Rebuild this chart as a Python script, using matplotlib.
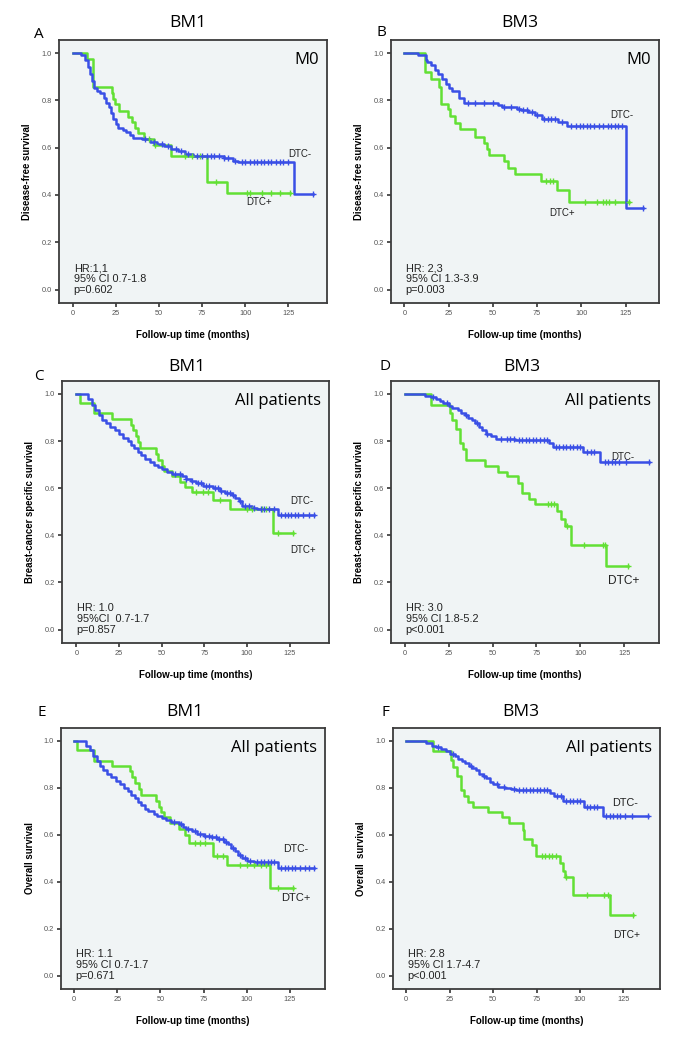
import numpy as np
import matplotlib
matplotlib.use('Agg')
import matplotlib.pyplot as plt

plt.rcParams['font.family'] = ['Liberation Sans', 'DejaVu Sans']

# ---- data (Kaplan-Meier steps) ----
# panel A : BM1, M0, disease-free survival
a_pos_t = [0, 8.5, 12.0, 22.6, 23.6, 24.5, 26.9, 32.3, 34.2, 36.1, 38.1, 41.5, 47.1, 56.8, 77.7, 89.3, 126]
a_pos_s = [1.0, 0.975, 0.855, 0.83, 0.805, 0.785, 0.755, 0.73, 0.71, 0.685, 0.66, 0.635, 0.61, 0.565, 0.455, 0.41, 0.41]
a_pos_c = [44, 48, 65, 69, 74, 83, 101, 103, 110, 115, 120, 126]
a_neg_t = [0, 5, 7, 9, 10, 11, 12.5, 14, 16, 18, 19.5, 21, 22, 23.5, 25, 26.5, 29, 31, 33, 35, 40, 45,
           49, 53, 57, 61, 65, 70, 88, 93, 96, 128, 139]
a_neg_s = [1.0, 0.99, 0.97, 0.94, 0.91, 0.88, 0.85, 0.84, 0.83, 0.81, 0.79, 0.77, 0.745, 0.72, 0.70, 0.685,
           0.675, 0.665, 0.655, 0.64, 0.635, 0.625, 0.615, 0.605, 0.595, 0.585, 0.575, 0.565, 0.555, 0.545,
           0.54, 0.405, 0.405]
a_neg_c = [42, 47, 52, 55, 60, 63, 67, 72, 75, 78, 80, 82, 85, 88, 90, 94, 98, 100, 103, 105, 107, 109,
           111, 113, 115, 118, 120, 122, 125, 139]

# panel B : BM3, M0, disease-free survival
b_pos_t = [0, 11.7, 15.1, 19.3, 20.6, 24.5, 26.0, 28.5, 31.5, 40.0, 44.7, 46.5, 48.0, 56.5, 58.5, 62.7,
           77.2, 86.3, 92.9, 127]
b_pos_s = [1.0, 0.92, 0.89, 0.855, 0.785, 0.765, 0.735, 0.705, 0.68, 0.645, 0.62, 0.595, 0.57, 0.545,
           0.515, 0.49, 0.46, 0.42, 0.37, 0.37]
b_pos_c = [80, 82.5, 84, 102, 109, 112, 114, 115.5, 119, 127]
b_neg_t = [0, 7.5, 12.3, 13, 15, 17, 19, 21, 23.5, 25, 27, 31, 33.5, 53, 55, 63.6, 66, 70, 74, 77.5, 87,
           92, 125.4, 135]
b_neg_s = [1.0, 0.99, 0.97, 0.96, 0.95, 0.93, 0.91, 0.89, 0.87, 0.85, 0.84, 0.81, 0.79, 0.78, 0.77, 0.765,
           0.76, 0.75, 0.74, 0.72, 0.71, 0.69, 0.345, 0.345]
b_neg_c = [36, 40, 45, 50, 56, 60, 65, 67, 69, 72, 75, 79, 81, 83, 85, 89, 94, 97, 99, 101, 103, 105,
           107, 110, 112, 115, 117, 119, 121, 123, 135]

# panel C : BM1, all patients, breast-cancer specific survival
c_pos_t = [0, 2.3, 10.4, 21, 32.2, 33.4, 35, 36, 37, 46.5, 48, 50, 51.5, 56, 60.5, 63.5, 68, 80, 90, 115, 127]
c_pos_s = [1.0, 0.96, 0.92, 0.895, 0.87, 0.845, 0.82, 0.795, 0.77, 0.745, 0.72, 0.695, 0.675, 0.65,
           0.625, 0.605, 0.585, 0.55, 0.51, 0.41, 0.41]
c_pos_c = [70, 74, 77, 84, 100, 103, 109, 111, 118, 127]
c_neg_t = [0, 6.8, 9, 11, 13, 15, 17.5, 20, 22.5, 25, 27.5, 30, 32, 34, 36, 38, 40, 43, 45.5, 48, 50, 53,
           56, 62, 64, 67, 70, 74, 80, 84, 87, 91, 93, 95, 97, 103, 106, 118, 139]
c_neg_s = [1.0, 0.98, 0.955, 0.93, 0.91, 0.89, 0.875, 0.86, 0.845, 0.83, 0.815, 0.80, 0.785, 0.77, 0.755,
           0.74, 0.725, 0.71, 0.70, 0.69, 0.68, 0.668, 0.66, 0.65, 0.64, 0.63, 0.62, 0.61, 0.60, 0.59, 0.58,
           0.57, 0.56, 0.545, 0.525, 0.515, 0.51, 0.485, 0.485]
c_neg_c = [58, 61, 64, 68, 71, 73, 76, 78, 81, 83, 85, 88, 90, 92, 96, 99, 101, 104, 108, 110, 113, 116,
           120, 122, 124, 126, 128, 130, 133, 136, 139]

# panel D : BM3, all patients, breast-cancer specific survival
d_pos_t = [0, 14.8, 25.6, 27, 29.4, 31.2, 33, 35, 45.5, 53, 58.3, 64.4, 67, 71, 74, 86.7, 89, 91, 94.7, 114.6, 127]
d_pos_s = [1.0, 0.955, 0.92, 0.89, 0.85, 0.79, 0.765, 0.72, 0.695, 0.67, 0.65, 0.62, 0.58, 0.555, 0.535,
           0.505, 0.47, 0.44, 0.36, 0.27, 0.27]
d_pos_c = [81.5, 83.5, 85, 92.5, 102, 113, 114, 127]
d_neg_t = [0, 11.4, 15, 18, 20, 22, 25, 27, 30, 32, 34, 36, 38, 40, 42, 44, 46, 49, 52, 63, 82, 84.5,
           101.5, 111, 139]
d_neg_s = [1.0, 0.99, 0.985, 0.98, 0.97, 0.96, 0.95, 0.94, 0.93, 0.92, 0.91, 0.90, 0.89, 0.875, 0.86,
           0.845, 0.83, 0.82, 0.81, 0.805, 0.79, 0.775, 0.755, 0.71, 0.71]
d_neg_c = [16, 24, 35, 41, 47, 55, 58, 60, 62, 65, 67, 69, 71, 73, 75, 77, 79, 81, 86, 88, 90, 92, 94,
           96, 98, 100, 104, 106, 108, 114, 116, 118, 120, 122, 126, 139]

# panel E : BM1, all patients, overall survival
e_pos_t = [0, 1.9, 11.8, 21.8, 32.4, 33.6, 35, 37.5, 39, 47.3, 49, 50.6, 52, 55.6, 61, 64, 66.5, 80.6,
           88.3, 113.4, 126.5]
e_pos_s = [1.0, 0.96, 0.915, 0.895, 0.87, 0.845, 0.82, 0.795, 0.77, 0.745, 0.72, 0.695, 0.675, 0.65,
           0.625, 0.60, 0.565, 0.51, 0.47, 0.375, 0.375]
e_pos_c = [70, 73, 76, 83, 86, 96, 100, 104, 108, 111, 118, 126.5]
e_neg_t = [0, 6.9, 9, 11, 13, 15, 17, 19, 21.5, 24, 26.5, 29, 31, 33, 35, 37, 39, 41, 43, 46, 48, 51, 53,
           56, 61, 63, 65, 68, 71, 75, 79, 83, 87, 89, 91, 93, 95, 97, 100, 104, 118, 139]
e_neg_s = [1.0, 0.98, 0.96, 0.935, 0.915, 0.895, 0.875, 0.86, 0.845, 0.83, 0.815, 0.80, 0.785, 0.77,
           0.755, 0.74, 0.725, 0.71, 0.70, 0.69, 0.68, 0.67, 0.665, 0.655, 0.645, 0.635, 0.625, 0.615,
           0.605, 0.595, 0.59, 0.58, 0.57, 0.56, 0.545, 0.53, 0.515, 0.50, 0.49, 0.485, 0.46, 0.46]
e_neg_c = [58, 62, 66, 70, 73, 76, 78, 80, 82, 84, 86, 88, 92, 96, 99, 102, 106, 108, 110, 112, 114,
           116, 120, 122, 124, 126, 128, 131, 134, 136, 139]

# panel F : BM3, all patients, overall survival
f_pos_t = [0, 15.3, 25.5, 27, 29, 31.5, 33.5, 35.5, 38.5, 47.3, 55, 59.3, 67, 67.8, 72.5, 74.5, 88.3, 90,
           91.5, 96, 117.3, 130.4]
f_pos_s = [1.0, 0.955, 0.92, 0.89, 0.85, 0.79, 0.765, 0.74, 0.72, 0.695, 0.675, 0.65, 0.62, 0.58, 0.555,
           0.51, 0.48, 0.445, 0.42, 0.345, 0.26, 0.26]
f_pos_c = [78, 80, 82, 84, 86, 92, 104, 114, 116, 130.4]
f_neg_t = [0, 11.6, 14.9, 17, 20, 23, 25, 28, 30, 32, 34, 36, 38, 40, 42, 44, 46, 48, 50, 53, 57, 60,
           63, 83, 85, 90, 102, 113.4, 139]
f_neg_s = [1.0, 0.99, 0.98, 0.975, 0.965, 0.955, 0.945, 0.935, 0.925, 0.915, 0.905, 0.895, 0.885, 0.875,
           0.86, 0.85, 0.84, 0.825, 0.815, 0.805, 0.80, 0.795, 0.79, 0.78, 0.765, 0.745, 0.72, 0.68, 0.68]
f_neg_c = [18, 27, 37, 45, 52, 56, 62, 65, 67, 69, 71, 73, 75, 77, 79, 81, 87, 89, 92, 94, 96, 98, 100,
           104, 106, 108, 110, 115, 117, 119, 121, 123, 126, 130, 139]

panel_letters = ['A', 'B', 'C', 'D', 'E', 'F']
panel_titles = ['BM1', 'BM3', 'BM1', 'BM3', 'BM1', 'BM3']
panel_groups = ['M0', 'M0', 'All patients', 'All patients', 'All patients', 'All patients']
y_labels = ['Disease-free survival', 'Disease-free survival',
            'Breast-cancer specific survival', 'Breast-cancer specific survival',
            'Overall survival', 'Overall  survival']
stats = ['HR:1,1\n95% CI 0.7-1.8\np=0.602',
         'HR: 2,3\n95% CI 1.3-3.9\np=0.003',
         'HR: 1.0\n95%CI  0.7-1.7\np=0.857',
         'HR: 3.0\n95% CI 1.8-5.2\np<0.001',
         'HR: 1.1\n95% CI 0.7-1.7\np=0.671',
         'HR: 2.8\n95% CI 1.7-4.7\np<0.001']
x_ticks = [0, 25, 50, 75, 100, 125]
y_ticks = [0.0, 0.2, 0.4, 0.6, 0.8, 1.0]

curves = [
    (a_neg_t, a_neg_s, a_neg_c, a_pos_t, a_pos_s, a_pos_c),
    (b_neg_t, b_neg_s, b_neg_c, b_pos_t, b_pos_s, b_pos_c),
    (c_neg_t, c_neg_s, c_neg_c, c_pos_t, c_pos_s, c_pos_c),
    (d_neg_t, d_neg_s, d_neg_c, d_pos_t, d_pos_s, d_pos_c),
    (e_neg_t, e_neg_s, e_neg_c, e_pos_t, e_pos_s, e_pos_c),
    (f_neg_t, f_neg_s, f_neg_c, f_pos_t, f_pos_s, f_pos_c),
]

# ---- layout (pixels of a 685x1045 image) ----
W, H = 685, 1045
boxes = [(59, 40, 327, 303), (391, 40, 659, 303),
         (62, 381, 329, 643), (391, 381, 659, 643),
         (61, 728, 325, 989), (393, 728, 660, 989)]
xlims = [(-7.9, 147.4), (-7.6, 143.9), (-8.4, 148), (-7.9, 144.8), (-7.6, 145.3), (-7.6, 146.0)]
title_pos = [(188, 23), (520, 23), (187, 367), (522, 367), (185, 712), (521, 712)]
letter_pos = [(39, 34), (381, 33), (39, 377), (385, 367), (42, 713), (385, 713)]
# DTC- / DTC+ label anchors (months, survival) and font sizes
neg_lab = [(125, 0.573), (116.5, 0.736), (125.4, 0.546), (117.8, 0.733), (121, 0.538), (118.6, 0.736)]
pos_lab = [(100.5, 0.371), (81.6, 0.322), (125.4, 0.337), (116, 0.205), (119.8, 0.329), (118.8, 0.174)]
lab_size = [7.0, 7.0, 7.0, 7.0, 7.6, 7.8]
pos_size = [7.0, 7.0, 7.0, 8.6, 8.0, 7.4]

BLUE = '#3a4fe6'
GREEN = '#62e034'
BG = '#f0f4f5'


def draw_km(ax, t, s, cens, color):
    t = np.asarray(t, float)
    s = np.asarray(s, float)
    ax.step(t, s, where='post', color=color, lw=1.8, zorder=3)
    c = np.asarray(cens, float)
    idx = np.searchsorted(t, c, side='right') - 1
    ax.plot(c, s[idx], ls='none', marker='+', ms=4, mew=1.0, color=color, zorder=4)


fig = plt.figure(figsize=(W / 100, H / 100), dpi=100)

for i in range(6):
    l, t, r, b = boxes[i]
    ax = fig.add_axes([l / W, 1 - b / H, (r - l) / W, (b - t) / H])
    ax.set_facecolor(BG)
    nt, ns, nc, pt, ps, pc = curves[i]
    draw_km(ax, pt, ps, pc, GREEN)
    draw_km(ax, nt, ns, nc, BLUE)

    ax.set_xlim(*xlims[i])
    ax.set_ylim(-0.057, 1.055)
    ax.set_xticks(x_ticks)
    ax.set_yticks(y_ticks)
    ax.set_yticklabels(['%.1f' % v for v in y_ticks])
    ax.tick_params(axis='both', direction='out', length=3, width=1.2, color='#333333',
                   labelsize=5.3, labelcolor='#555555', pad=2)
    for sp in ax.spines.values():
        sp.set_color('#3c3c3c')
        sp.set_linewidth(1.3)

    ax.set_ylabel(y_labels[i], fontsize=6.9, fontweight='bold')
    ax.yaxis.set_label_coords(-0.1, 0.5)
    ax.set_xlabel('Follow-up time (months)', fontsize=7, fontweight='bold')
    ax.xaxis.set_label_coords(0.5, -0.103)

    ax.text(0.97, 0.955, panel_groups[i], transform=ax.transAxes, ha='right', va='top',
            fontsize=12, family=['Open Sans', 'DejaVu Sans'])
    ax.text(0.055, 0.03, stats[i], transform=ax.transAxes, ha='left', va='bottom',
            fontsize=7.8, linespacing=1.12, color='#222222')
    ax.text(neg_lab[i][0], neg_lab[i][1], 'DTC-', ha='left', va='center', fontsize=lab_size[i],
            color='#222222')
    ax.text(pos_lab[i][0], pos_lab[i][1], 'DTC+', ha='left', va='center', fontsize=pos_size[i],
            color='#222222')

    fig.text(title_pos[i][0] / W, 1 - title_pos[i][1] / H, panel_titles[i], ha='center', va='center',
             fontsize=12.5, family=['Open Sans', 'DejaVu Sans'])
    fig.text(letter_pos[i][0] / W, 1 - letter_pos[i][1] / H, panel_letters[i], ha='center',
             va='center', fontsize=11, family=['Open Sans', 'DejaVu Sans'])

fig.savefig('out.png', dpi=100)
